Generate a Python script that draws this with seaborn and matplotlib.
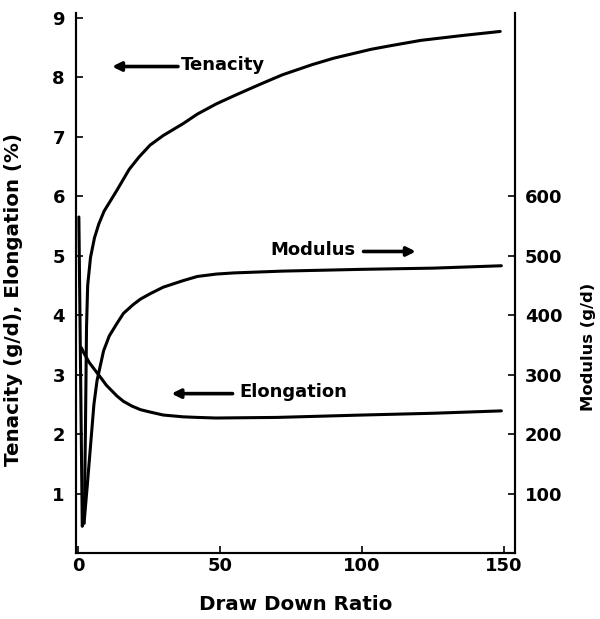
import matplotlib
matplotlib.use("Agg")
import matplotlib.pyplot as plt
import seaborn as sns
import pandas as pd

# ---- data ----
ten_ddr = [2.2, 2.6, 3.0, 3.4, 4.4, 5.8, 7.3, 9.2, 11.4, 13.7, 18.0, 21.5, 25.4, 30.0, 37.0, 42.0, 48.6, 55.0,
           60.2, 65.0, 71.9, 82.3, 90.0, 103.2, 110.0, 120.7, 135.0, 148.6]
ten_val = [0.5, 2.0, 3.8, 4.5, 4.97, 5.3, 5.53, 5.75, 5.92, 6.1, 6.45, 6.66, 6.86, 7.02, 7.22, 7.38, 7.55, 7.69,
           7.8, 7.9, 8.04, 8.21, 8.32, 8.47, 8.53, 8.62, 8.7, 8.77]

elo_ddr = [1.2, 2.1, 4.0, 6.7, 8.3, 10.0, 13.7, 16.0, 19.0, 22.0, 25.4, 30.0, 37.0, 42.0, 48.6, 70.0, 100.0, 125.0, 149.0]
elo_val = [3.45, 3.36, 3.2, 3.03, 2.93, 2.82, 2.64, 2.55, 2.47, 2.41, 2.37, 2.32, 2.29, 2.28, 2.27, 2.28, 2.32, 2.35, 2.39]

mod_ddr = [0.3, 1.5, 2.3, 3.2, 4.4, 5.6, 6.7, 9.0, 11.0, 13.7, 16.0, 19.5, 22.0, 25.4, 30.0, 37.0, 42.0, 48.6,
           55.0, 72.0, 100.0, 125.0, 149.0]
mod_val = [565, 45, 60, 110, 180, 250, 290, 340, 365, 386, 403, 418, 427, 436, 447, 458, 465, 469,
           471, 474, 477, 479, 483]

x_ticks = [0, 50, 100, 150]
left_ticks = [1, 2, 3, 4, 5, 6, 7, 8, 9]
right_ticks = [100, 200, 300, 400, 500, 600]

sns.set_style("ticks")
plt.rcParams['font.family'] = ['DejaVu Sans']
plt.rcParams['font.weight'] = 'bold'
plt.rcParams['text.color'] = 'black'
plt.rcParams['axes.labelcolor'] = 'black'
plt.rcParams['xtick.color'] = 'black'
plt.rcParams['ytick.color'] = 'black'

fig = plt.figure(figsize=(6.0, 6.19), dpi=100)
ax = fig.add_axes([0.1267, 0.1066, 0.8583 - 0.1267, 0.979 - 0.1066])
ax2 = ax.twinx()

lw = 2.2
df_t = pd.DataFrame({"ddr": ten_ddr, "val": ten_val})
df_e = pd.DataFrame({"ddr": elo_ddr, "val": elo_val})
df_m = pd.DataFrame({"ddr": mod_ddr, "val": mod_val})
sns.lineplot(data=df_t, x="ddr", y="val", ax=ax, color="black", lw=lw)
sns.lineplot(data=df_e, x="ddr", y="val", ax=ax, color="black", lw=lw)
sns.lineplot(data=df_m, x="ddr", y="val", ax=ax2, color="black", lw=lw)

ax.set_xlim(-0.7, 153.8)
ax.set_ylim(0, 9.08)
ax2.set_ylim(0, 908)

for a in (ax, ax2):
    a.spines['top'].set_visible(False)
    for s in a.spines.values():
        s.set_linewidth(1.5)
        s.set_color('black')

ax.set_xticks(x_ticks)
ax.set_yticks(left_ticks)
ax2.set_yticks(right_ticks)
ax.tick_params(axis='x', direction='in', length=5, width=1.2, pad=3, labelsize=13, colors='black')
ax.tick_params(axis='y', direction='in', length=5, width=1.2, pad=8, labelsize=13, colors='black')
ax2.tick_params(axis='y', direction='in', length=5, width=1.2, pad=7, labelsize=13, colors='black')
for lab in ax.get_xticklabels() + ax.get_yticklabels() + ax2.get_yticklabels():
    lab.set_fontweight('bold')

ax.set_xlabel("Draw Down Ratio", fontsize=14.3, fontweight='bold', color='black')
ax.xaxis.set_label_coords(0.5, -0.077)
ax.set_ylabel("Tenacity (g/d), Elongation (%)", fontsize=14.3, fontweight='bold', color='black')
ax.yaxis.set_label_coords(-0.1215, 0.47)
ax2.set_ylabel("Modulus (g/d)", fontsize=11.8, fontweight='bold', color='black')
ax2.yaxis.set_label_coords(1.15, 0.382)

arrow_kw = dict(arrowstyle='-|>', lw=2.6, color='black', mutation_scale=13, shrinkA=0, shrinkB=0)
# Tenacity label (arrow points left)
ax.annotate("", xy=(12.0, 8.18), xytext=(35.2, 8.18), arrowprops=arrow_kw)
ax.text(36.3, 8.2, "Tenacity", fontsize=13, fontweight='bold', va='center', ha='left', color='black')
# Modulus label (arrow points right)
ax.text(67.7, 5.1, "Modulus", fontsize=13, fontweight='bold', va='center', ha='left', color='black')
ax.annotate("", xy=(118.9, 5.07), xytext=(100.5, 5.07), arrowprops=arrow_kw)
# Elongation label (arrow points left)
ax.annotate("", xy=(32.9, 2.68), xytext=(54.4, 2.68), arrowprops=arrow_kw)
ax.text(56.7, 2.7, "Elongation", fontsize=13, fontweight='bold', va='center', ha='left', color='black')

fig.savefig("out.png", dpi=100)
